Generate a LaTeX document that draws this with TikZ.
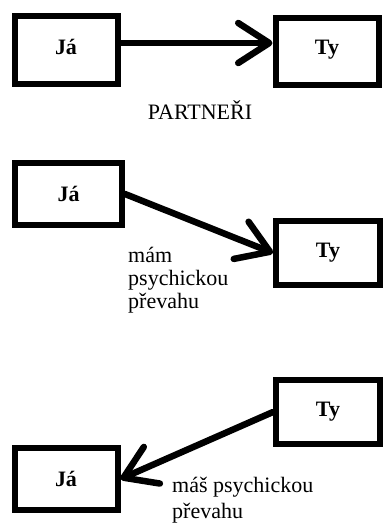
\documentclass[tikz,border=0pt]{standalone}
\usepackage{fontspec}
\setmainfont{Liberation Serif}
\usetikzlibrary{arrows.meta}

\begin{document}
\begin{tikzpicture}[x=1pt,y=-1pt,
        box/.style={draw,line width=6pt,minimum width=103pt,minimum height=64pt,
            inner sep=0pt,font=\fontsize{22}{24}\selectfont\bfseries},
        arr/.style={line width=6.5pt,line cap=round,
            -{Straight Barb[length=31pt,width=40pt,round]}},
        txt/.style={inner sep=0pt,align=left,font=\fontsize{22}{23}\selectfont}]
    \useasboundingbox (0,0) rectangle (384,523);

    % partneri
    \node[box,minimum height=68pt] (ja1) at (66,50) {\raisebox{7pt}{Já}\hspace{22pt}};
    \node[box,minimum height=67pt] (ty1) at (327,51.5) {\raisebox{8pt}{Ty}\hspace{14pt}};
    \draw[arr] ([yshift=7pt]ja1.east) -- ([yshift=7pt]ja1.east -| ty1.west);
    \node[txt] (partneri) at (200,110) {PARTNEŘI};

    % ja mam prevahu
    \node[box,minimum width=107pt,minimum height=62pt] (ja2) at (68.5,194) {Já};
    \node[box,minimum width=104pt] (ty2) at (328,253) {Ty};
    \draw[arr] (ja2.east) -- (ty2.west);
    \node[txt,anchor=west] (prevaha1) at (128,280) {mám\\psychickou\\převahu};

    % ty mas prevahu
    \node[box,minimum width=104pt] (ty3) at (328,412) {Ty};
    \node[box,minimum height=62pt] (ja3) at (66,479) {Já};
    \draw[arr] (ty3.west) -- (ja3.east);
    \node[txt,anchor=west] (prevaha2) at (172,500) {máš psychickou\\[3pt]převahu};
\end{tikzpicture}
\end{document}
